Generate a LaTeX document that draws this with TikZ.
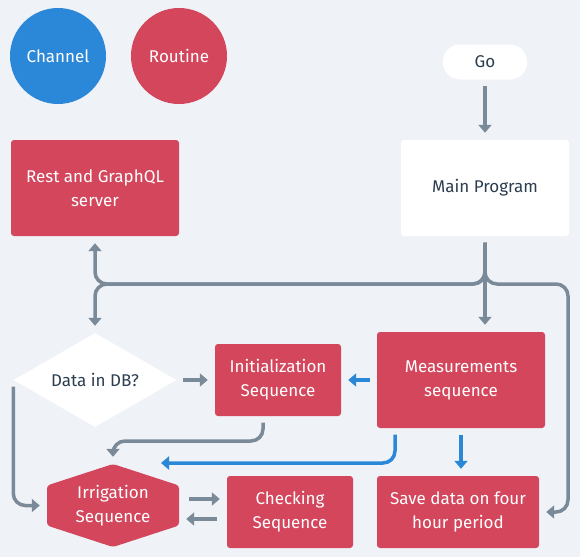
\documentclass[tikz,border=0pt]{standalone}
\usepackage{fontspec}
\setmainfont{Fira Sans}
\usetikzlibrary{arrows.meta,shapes.geometric,calc}
\definecolor{bgc}{HTML}{EFF3F7}
\definecolor{chblue}{HTML}{2B88D8}
\definecolor{rtred}{HTML}{D3465C}
\definecolor{lgray}{HTML}{7A8A99}
\definecolor{tdark}{HTML}{2C3E50}
\begin{document}
\begin{tikzpicture}[x=1pt, y=-1pt, >={Triangle[width=13pt,length=8pt]},
  font=\fontsize{17}{24}\selectfont,
  dot/.style={circle, minimum size=96pt, inner sep=0pt, text=white},
  box/.style={rectangle, rounded corners=3pt, fill=rtred, text=white, align=center, inner sep=0pt, minimum width=168pt, minimum height=96pt},
  wbox/.style={box, fill=white, text=tdark},
  small/.style={minimum width=126pt, minimum height=72pt},
  dia/.style={diamond, aspect=1.7, fill=white, text=tdark, inner sep=0pt, minimum width=163pt, minimum height=94pt},
  hexa/.style={rectangle, fill=bgc, text=white, align=center, inner sep=0pt, minimum width=132pt, minimum height=83pt,
    path picture={\fill[rtred, rounded corners=3pt] ($(path picture bounding box.center)+(-66,-20)$) -- ++(66,-21.5) -- ++(66,21.5) -- ++(0,40) -- ++(-66,21.5) -- ++(-66,-21.5) -- cycle;}},
  arr/.style={->, line width=3.5pt, draw=lgray, shorten <=6.5pt, shorten >=7pt},
  barr/.style={arr, draw=chblue},
  ]
  \fill[bgc] (0,0) rectangle (580,557);
  \node[dot, fill=chblue] (channel) at (58,56) {Channel};
  \node[dot, fill=rtred] (routine) at (179,56) {Routine};
  \node[wbox, rounded corners=17pt, minimum width=84pt, minimum height=35pt] (go) at (485,62) {Go};
  \node[wbox] (main) at (485,188) {Main Program};
  \node[box] (rest) at (95,188) {Rest and GraphQL\\server};
  \node[dia] (db) at (95,380) {Data in DB?};
  \node[box, small] (init) at (278,380) {Initialization\\Sequence};
  \node[box] (meas) at (461,380) {Measurements\\sequence};
  \node[hexa] (irr) at (113,505.5) {Irrigation\\Sequence};
  \node[box, small] (check) at (290,512) {Checking\\Sequence};
  \node[box, minimum width=162pt, minimum height=72pt] (save) at (458,512) {Save data on four\\hour period};
  \coordinate (hub) at (485,284);
  \coordinate (rbend) at (568,284);
  \coordinate (mid) at (113,441);
  \coordinate (btip) at (154,463);
  \draw[arr] (go) -- (main);
  \draw[arr, rounded corners=12pt] (main.south) |- (rest.south |- hub) -- (rest.south);
  \draw[arr, rounded corners=12pt] (main.south) |- (db.north |- hub) -- (db.north);
  \draw[arr] (main.south) -- (main.south |- meas.north);
  \draw[arr, rounded corners=12pt] (main.south) |- (rbend) |- (save.east);
  \draw[arr] (db.east) -- (init.west);
  \draw[arr, rounded corners=12pt] (db.west) |- (irr.west);
  \draw[arr, rounded corners=12pt] ([xshift=-15pt]init.south) |- (mid) -- (irr.north);
  \draw[barr] (meas.west) -- (init.east);
  \draw[barr] (meas.south) -- (meas.south |- save.north);
  \draw[barr, rounded corners=12pt] ([xshift=-66pt]meas.south) |- (btip);
  \draw[arr, shorten <=10pt] ([yshift=6.5pt]irr.east) -- ([yshift=13pt]check.west);
  \draw[arr, shorten <=10pt] ([yshift=-7pt]check.west) -- ([yshift=-13.5pt]irr.east);
\end{tikzpicture}
\end{document}
